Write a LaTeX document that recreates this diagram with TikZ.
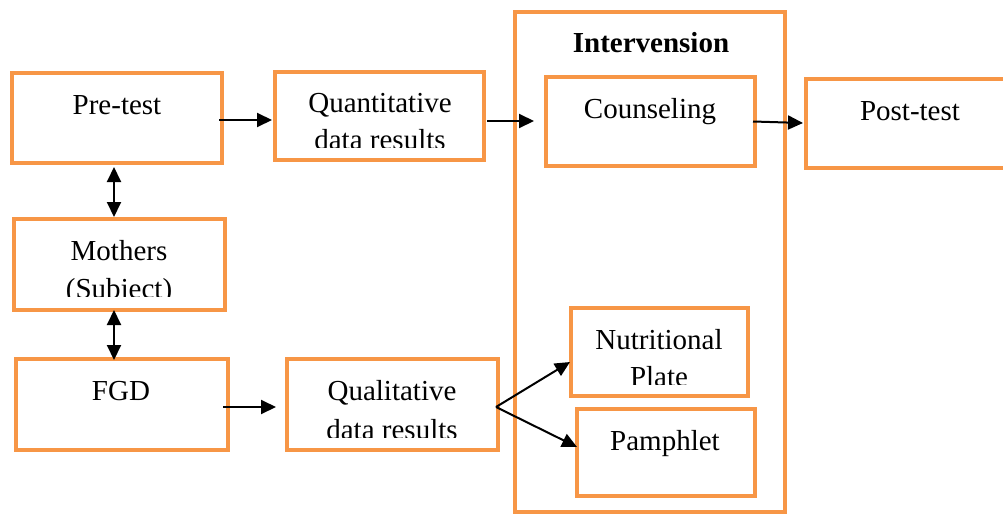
\documentclass[tikz,border=0pt]{standalone}
\usepackage{fontspec}
\setmainfont{Liberation Serif}
\usetikzlibrary{arrows.meta,calc}
\definecolor{boxorange}{HTML}{F79646}
\begin{document}
\begin{tikzpicture}[x=1pt,y=-1pt,
  box/.style={draw=boxorange,line width=4.5pt,rectangle,inner sep=0pt,outer sep=0pt},
  txt/.style={anchor=base,inner sep=0pt,font=\fontsize{29}{36}\selectfont},
  btxt/.style={txt,font=\fontsize{29}{36}\selectfont\bfseries},
  arr/.style={line width=2pt,-{Triangle[length=15pt,width=14pt]}},
  darr/.style={line width=2pt,{Triangle[length=15pt,width=14pt]}-{Triangle[length=15pt,width=14pt]}}]
\useasboundingbox (0,0) rectangle (1003,514);
\clip (0,0) rectangle (1003,514);
% boxes
\node[box,minimum width=210,minimum height=90] (pre) at (117,118) {};
\node[box,minimum width=209,minimum height=88] (quant) at (379.5,116) {};
\node[box,minimum width=211,minimum height=91] (moth) at (119.5,264.5) {};
\node[box,minimum width=212,minimum height=91] (fgd) at (122,404.5) {};
\node[box,minimum width=211,minimum height=91] (qual) at (392.5,404.5) {};
\node[box,minimum width=270,minimum height=500] (interv) at (650,262) {};
\node[box,minimum width=209,minimum height=89] (couns) at (650.5,121.5) {};
\node[box,minimum width=204,minimum height=89] (post) at (908,123.5) {};
\node[box,minimum width=177,minimum height=88] (nutr) at (659.5,352) {};
\node[box,minimum width=178,minimum height=87] (pamph) at (666,452.5) {};
% texts
\node[txt] (preT) at (117,114) {Pre-test};
\node[txt] (quantA) at (380,112) {Quantitative};
\begin{scope}
\clip (280,120) rectangle (480,147.5);
\node[txt] (quantB) at (380,149) {data results};
\end{scope}
\node[txt] (mothA) at (119,260) {Mothers};
\begin{scope}
\clip (20,265) rectangle (220,296);
\node[txt] (mothB) at (119,298) {(Subject)};
\end{scope}
\node[txt] (fgdT) at (121,400) {FGD};
\node[txt] (qualA) at (392,400) {Qualitative};
\begin{scope}
\clip (292,405) rectangle (494,437);
\node[txt] (qualB) at (392,439) {data results};
\end{scope}
\node[btxt] (intervT) at (651,52) {Intervension};
\node[txt] (counsT) at (650,118) {Counseling};
\node[txt] (postT) at (910,120) {Post-test};
\node[txt] (nutrA) at (659,349) {Nutritional};
\begin{scope}
\clip (576,355) rectangle (744,384);
\node[txt] (nutrB) at (659,386) {Plate};
\end{scope}
\node[txt] (pamphT) at (665,450) {Pamphlet};
% connectors
\draw[darr] ($(pre.south)+(-3,4)$) -- ($(moth.north)+(-5.5,-2)$);
\draw[darr] ($(moth.south)+(-5.5,0)$) -- ($(fgd.north)+(-8,1)$);
\draw[arr] ($(pre.east)+(-3,2)$) -- ($(quant.west)+(-3,4)$);
\draw[arr] ($(quant.east)+(3,5)$) -- ($(couns.west)+(-12,-0.5)$);
\draw[arr] ($(couns.east)+(-2,0)$) -- ($(post.west)+(-3,-0.5)$);
\draw[arr] ($(fgd.east)+(-5,2.5)$) -- ($(qual.west)+(-11,2.5)$);
\draw[arr] ($(qual.east)+(-2,2.5)$) -- ($(nutr.west)+(-1,10)$);
\draw[arr] ($(qual.east)+(-2,2.5)$) -- ($(pamph.west)+(0,-5.5)$);
\end{tikzpicture}
\end{document}
